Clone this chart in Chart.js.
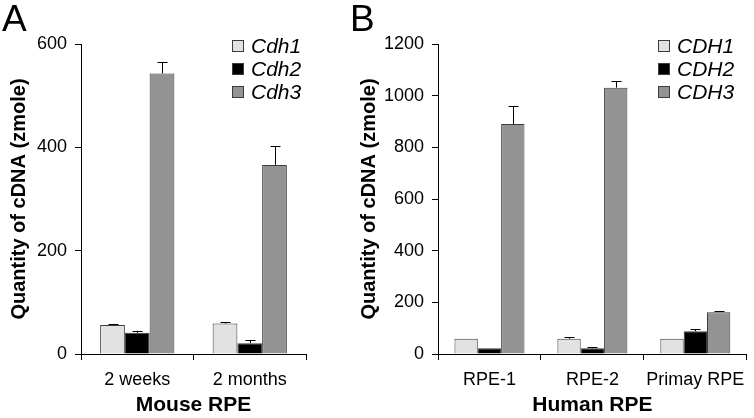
<!DOCTYPE html>
<html>
<head>
<meta charset="utf-8">
<script src="https://cdn.jsdelivr.net/npm/chart.js@4/dist/chart.umd.min.js"></script>
<style>
  body { margin: 0; background: #fff; }
  #wrap { position: relative; width: 754px; height: 418px; overflow: hidden; }
  canvas { position: absolute; top: 0; }
  .lbl { position: absolute; top: 0; font: 37px "Liberation Sans", Arial, sans-serif; line-height: 1; color: #000; }
</style>
</head>
<body>
<div id="wrap">
  <canvas id="chartA" width="350" height="418" style="left:0"></canvas>
  <canvas id="chartB" width="404" height="418" style="left:350px"></canvas>
  <div class="lbl" style="left:2px">A</div>
  <div class="lbl" style="left:350px">B</div>
</div>
<script>
// panel A - mouse RPE
var mouseAges = ['2 weeks', '2 months'];
var mCdh1 = [56, 59];
var mCdh1Err = [3, 2];
var mCdh2 = [41, 21];
var mCdh2Err = [4, 6];
var mCdh3 = [543, 366];
var mCdh3Err = [22, 37];

// panel B - human RPE
var humanLines = ['RPE-1', 'RPE-2', 'Primay RPE'];
var hCDH1 = [59, 59, 59];
var hCDH1Err = [0, 7, 0];
var hCDH2 = [22, 22, 88];
var hCDH2Err = [0, 6, 10];
var hCDH3 = [890, 1031, 162];
var hCDH3Err = [70, 27, 5];

var colLight = '#e2e2e2', colDark = '#000000', colMid = '#939393', colEdge = '#3c3c3c';
var fam = '"Liberation Sans", Arial, sans-serif';
Chart.defaults.font.family = fam;
Chart.defaults.color = '#000';

// error bars drawn from the bar tops using the y scale
var errorBars = {
  id: 'errorBars',
  afterDatasetsDraw: function (chart) {
    var ctx = chart.ctx, y = chart.scales.y;
    ctx.save();
    ctx.strokeStyle = '#000';
    ctx.lineWidth = 1;
    chart.data.datasets.forEach(function (ds, i) {
      var meta = chart.getDatasetMeta(i);
      meta.data.forEach(function (bar, j) {
        var e = ds.errors[j];
        if (!e) return;
        var yt = y.getPixelForValue(ds.data[j] + e);
        var x = Math.round(bar.x) + 0.5;
        ctx.beginPath();
        ctx.moveTo(x, bar.y);
        ctx.lineTo(x, Math.round(yt) + 0.5);
        ctx.moveTo(x - 5, Math.round(yt) + 0.5);
        ctx.lineTo(x + 5, Math.round(yt) + 0.5);
        ctx.stroke();
      });
    });
    ctx.restore();
  }
};

// simple legend inside the plot, top right
var boxLegend = {
  id: 'boxLegend',
  afterDraw: function (chart, args, opts) {
    var ctx = chart.ctx;
    ctx.save();
    ctx.font = opts.font;
    ctx.textBaseline = 'middle';
    chart.data.datasets.forEach(function (ds, i) {
      var cy = opts.y + i * 23;
      ctx.fillStyle = ds.backgroundColor;
      ctx.fillRect(opts.x, cy - 6, 12, 12);
      ctx.strokeStyle = colEdge;
      ctx.lineWidth = 1;
      ctx.strokeRect(opts.x + 0.5, cy - 5.5, 11, 11);
      ctx.fillStyle = '#000';
      ctx.fillText(ds.label, opts.x + 19, cy + 1);
    });
    ctx.restore();
  }
};

function makeChart(id, labels, sets, yMax, leftW, padRight, catPct, legX) {
  return new Chart(document.getElementById(id), {
    type: 'bar',
    data: {
      labels: labels,
      datasets: sets.map(function (s) {
        return {
          label: s[0], data: s[1], errors: s[2],
          backgroundColor: s[3], borderColor: colEdge, borderWidth: 1,
          barPercentage: 1.0, categoryPercentage: catPct
        };
      })
    },
    options: {
      responsive: false,
      animation: false,
      layout: { padding: { top: 44, right: padRight, bottom: 0, left: 0 } },
      plugins: {
        legend: { display: false },
        tooltip: { enabled: false },
        boxLegend: { x: legX, y: 46, font: 'italic 21px ' + fam }
      },
      scales: {
        x: {
          grid: { offset: true, drawOnChartArea: false, tickLength: 6, color: '#000' },
          border: { color: '#000', width: 1 },
          ticks: { font: { size: 18 }, padding: 9, color: '#000',
                   maxRotation: 0, minRotation: 0, autoSkip: false },
          title: { display: true, text: id === 'chartA' ? 'Mouse RPE' : 'Human RPE',
                   font: { size: 21, weight: 'bold' }, padding: { top: 0, bottom: 0 }, color: '#000' },
          afterFit: function (s) { s.height = 64; }
        },
        y: {
          min: 0, max: yMax,
          grid: { drawOnChartArea: false, tickLength: 6, color: '#000' },
          border: { color: '#000', width: 1 },
          ticks: { stepSize: 200, font: { size: 18 }, padding: 8, color: '#000',
                   callback: function (v) { return String(v); } },
          title: { display: true, text: 'Quantity of cDNA (zmole)',
                   font: { size: 20, weight: 'bold' }, padding: { top: 7, bottom: 0 }, color: '#000' },
          afterFit: function (s) { s.width = leftW; }
        }
      }
    },
    plugins: [errorBars, boxLegend]
  });
}

makeChart('chartA', mouseAges, [
  ['Cdh1', mCdh1, mCdh1Err, colLight],
  ['Cdh2', mCdh2, mCdh2Err, colDark],
  ['Cdh3', mCdh3, mCdh3Err, colMid]
], 600, 81, 44, 0.66, 232);

makeChart('chartB', humanLines, [
  ['CDH1', hCDH1, hCDH1Err, colLight],
  ['CDH2', hCDH2, hCDH2Err, colDark],
  ['CDH3', hCDH3, hCDH3Err, colMid]
], 1200, 88, 4, 0.68, 308);
</script>
</body>
</html>
